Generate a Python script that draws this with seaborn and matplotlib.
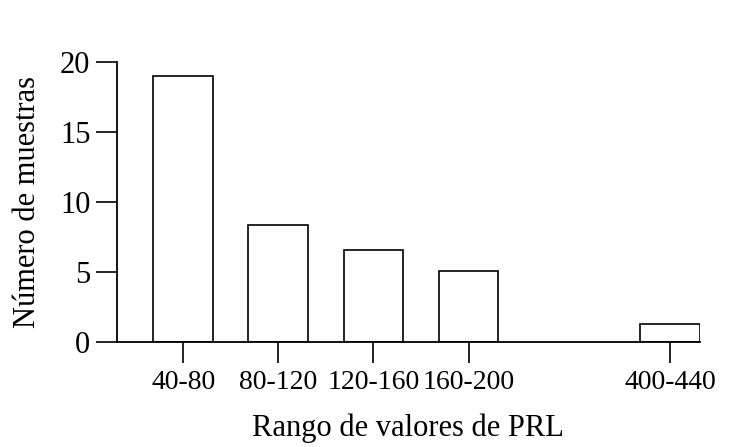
import numpy as np
import pandas as pd
import seaborn as sns
import matplotlib.pyplot as plt

# PRL ranges and sample counts
rangos = ['40-80', '80-120', '120-160', '160-200', '400-440']
muestras = [19, 8.4, 6.6, 5.1, 1.3]

# the last range sits after a gap on a broken axis
gap = 2.12
pos = [float(i) for i in range(4)] + [3 + gap]

df = pd.DataFrame({'pos': pos, 'muestras': muestras, 'rango': rangos})

sns.set_style('ticks')
plt.rcParams['font.family'] = ['Liberation Serif', 'DejaVu Serif']
plt.rcParams['text.color'] = 'black'
plt.rcParams['axes.labelcolor'] = 'black'

fig = plt.figure(figsize=(7.3, 4.47), dpi=100)
ax = fig.add_axes([0.160, 0.234, 0.799, 0.627])

sns.barplot(data=df, x='pos', y='muestras', native_scale=True, width=0.63,
            color='white', edgecolor='black', linewidth=1.2, ax=ax)

ax.set_xlim(-0.70, 3 + gap + 0.316)
ax.set_ylim(0, 20)
ax.set_yticks([0, 5, 10, 15, 20])
ax.set_xticks(pos)
ax.set_xticklabels(rangos)

ax.spines['top'].set_visible(False)
ax.spines['right'].set_visible(False)
for s in ['left', 'bottom']:
    ax.spines[s].set_linewidth(1.3)
    ax.spines[s].set_color('black')
ax.tick_params(axis='y', length=15, width=1.2, labelsize=22, pad=4, colors='black')
ax.tick_params(axis='x', length=15, width=1.2, labelsize=20, pad=5, colors='black')

ax.set_xlabel('Rango de valores de PRL', fontsize=22, labelpad=13)
ax.set_ylabel('Número de muestras', fontsize=22, labelpad=13)

plt.savefig('out.png', dpi=100)
